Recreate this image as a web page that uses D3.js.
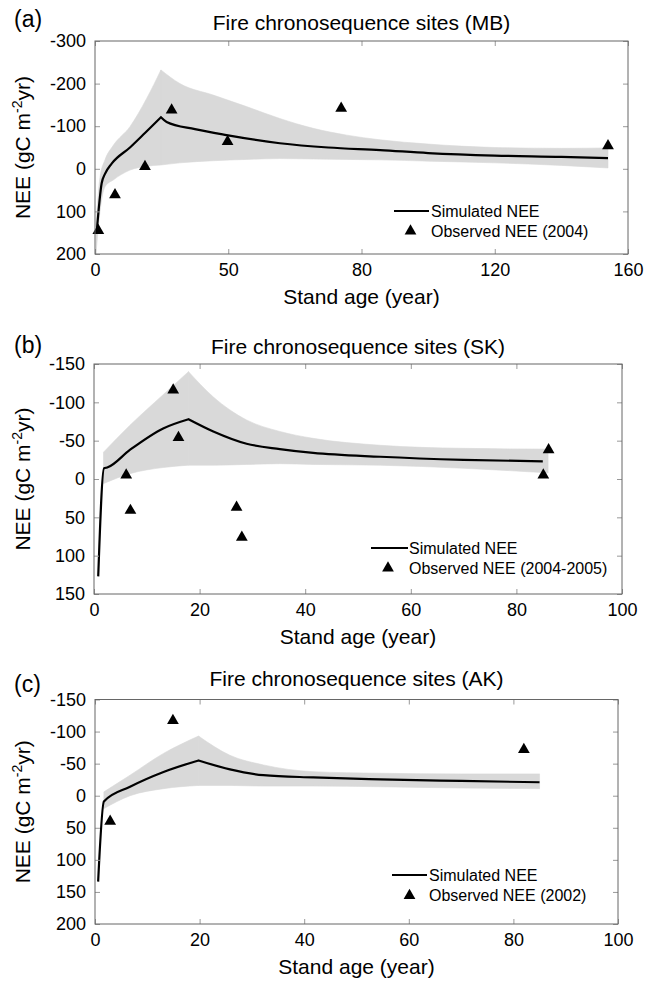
<!DOCTYPE html>
<html>
<head>
<meta charset="utf-8">
<script src="https://cdn.jsdelivr.net/npm/d3@7"></script>
<style>
  body { margin: 0; background: #fff; }
  svg text { font-family: "Liberation Sans", Arial, Helvetica, sans-serif; fill: #000; }
</style>
</head>
<body>
<svg id="chart" width="645" height="983"></svg>
<script>
// ---- data ----
// (a) MB
const mbObsAge = [1.0, 6.0, 15.0, 23.0, 39.8, 73.9, 154];
const mbObsNEE = [145, 61, -5, -138, -64, -142, -54];
const mbSimAge = [0.5, 2.0, 3.0, 5.0, 10.5, 15, 19.8, 21.5, 30, 39.5, 55.5, 70, 85.6, 100, 120, 140, 154];
const mbSimNEE = [150, 34, 12, -12, -50, -84, -121, -110, -93, -79, -60, -50, -44, -37, -31, -28, -25];
const mbBandAge = [0.3, 1.5, 3, 5.5, 10.5, 15.5, 19.8, 25.5, 35.5, 45.5, 55.5, 65.5, 75.6, 85.6, 100, 120, 140, 154];
const mbBandUp = [130, 20, -21, -55, -99, -165, -232, -200, -173, -146, -118, -95, -79, -68, -58, -50, -48, -49];
const mbBandLo = [200, 100, 42, 26, 3, -6, -9, -14, -19, -22, -24, -23, -22, -21, -18, -14, -8, -2];
const mbXTicks = [0, 40, 80, 120, 160];
const mbXTickLabels = ["0", "50", "80", "120", "160"];
const mbYTicks = [-300, -200, -100, 0, 100, 200];

// (b) SK
const skObsAge = [6.1, 6.9, 15.0, 16.0, 27.0, 28.0, 85.1, 86.1];
const skObsNEE = [-5, 41, -116, -54, 37, 76, -5, -38];
const skSimAge = [0.8, 1.9, 2.5, 6.8, 13.1, 17.9, 22.6, 28.9, 35.2, 41.5, 54.2, 70, 85];
const skSimNEE = [127, -14, -15, -38, -66, -78, -62, -46, -39, -34, -29, -25, -23];
const skBandAge = [1.8, 6.8, 13.1, 17.9, 22.6, 28.9, 35.2, 41.5, 54.2, 70, 86];
const skBandUp = [-35, -70, -110, -140, -107, -77, -62, -53, -44, -40, -39];
const skBandLo = [6, -7, -15, -18, -18, -19, -20, -19, -18, -14, -8];
const skXTicks = [0, 20, 40, 60, 80, 100];
const skYTicks = [-150, -100, -50, 0, 50, 100, 150];

// (c) AK
const akObsAge = [2.9, 14.9, 82];
const akObsNEE = [40, -117, -72];
const akSimAge = [0.6, 1.7, 6.7, 13.1, 19.8, 25.8, 32.2, 41.7, 54.5, 70, 85];
const akSimNEE = [134, 9, -14, -37, -55, -41, -32, -28.5, -25.5, -23, -21];
const akBandAge = [1.7, 6.7, 13.1, 19.8, 25.8, 32.2, 41.7, 54.5, 70, 85];
const akBandUp = [-6, -32, -66, -93, -63, -48, -37.5, -35, -34, -34];
const akBandLo = [20, 0, -11, -16, -16, -15, -15, -14, -12, -11];
const akXTicks = [0, 20, 40, 60, 80, 100];
const akYTicks = [-150, -100, -50, 0, 50, 100, 150, 200];

const panels = [
  { tag: "(a)", title: "Fire chronosequence sites (MB)", legendObs: "Observed NEE (2004)",
    left: 95, right: 628, top: 41, bottom: 254, tagY: 27, titleY: 30,
    xDom: [0, 160], yDom: [-300, 200], xTicks: mbXTicks, xLabels: mbXTickLabels, yTicks: mbYTicks,
    obsAge: mbObsAge, obsNEE: mbObsNEE, simAge: mbSimAge, simNEE: mbSimNEE,
    bandAge: mbBandAge, bandUp: mbBandUp, bandLo: mbBandLo,
    leg: { x0: 394, x1: 429, tx: 431, y1: 211, y2: 231, mx: 410.5 } },
  { tag: "(b)", title: "Fire chronosequence sites (SK)", legendObs: "Observed NEE (2004-2005)",
    left: 94, right: 622, top: 364, bottom: 594, tagY: 353, titleY: 354,
    xDom: [0, 100], yDom: [-150, 150], xTicks: skXTicks, xLabels: null, yTicks: skYTicks,
    obsAge: skObsAge, obsNEE: skObsNEE, simAge: skSimAge, simNEE: skSimNEE,
    bandAge: skBandAge, bandUp: skBandUp, bandLo: skBandLo,
    leg: { x0: 371, x1: 408, tx: 409, y1: 548, y2: 568, mx: 388 } },
  { tag: "(c)", title: "Fire chronosequence sites (AK)", legendObs: "Observed NEE (2002)",
    left: 95, right: 618, top: 699.5, bottom: 924, tagY: 692, titleY: 686,
    xDom: [0, 100], yDom: [-150, 200], xTicks: akXTicks, xLabels: null, yTicks: akYTicks,
    obsAge: akObsAge, obsNEE: akObsNEE, simAge: akSimAge, simNEE: akSimNEE,
    bandAge: akBandAge, bandUp: akBandUp, bandLo: akBandLo,
    leg: { x0: 392, x1: 427, tx: 429, y1: 875, y2: 895.5, mx: 409.5 } }
];

const svg = d3.select("#chart");
const tri = d3.symbol().type(d3.symbolTriangle).size(60);

// split a series at its peak so the smooth curve keeps a sharp corner there
function splitAtPeak(rows, key) {
  let k = d3.minIndex(rows, d => d[key]);
  return [rows.slice(0, k + 1), rows.slice(k)];
}

panels.forEach(p => {
  let x = d3.scaleLinear().domain(p.xDom).range([p.left, p.right]);
  let y = d3.scaleLinear().domain(p.yDom).range([p.top, p.bottom]);
  let g = svg.append("g");

  // uncertainty band
  let band = p.bandAge.map((a, i) => ({ a: a, up: p.bandUp[i], lo: p.bandLo[i] }));
  let area = d3.area().curve(d3.curveMonotoneX)
    .x(d => x(d.a)).y0(d => y(d.lo)).y1(d => y(d.up));
  g.selectAll(".band")
    .data(splitAtPeak(band, "up"))
    .enter()
      .append("path")
      .attr("fill", "#d9d9d9")
      .attr("stroke", "#d9d9d9")
      .attr("stroke-width", 0.6)
      .attr("d", d => area(d));

  // simulated NEE
  let sim = p.simAge.map((a, i) => ({ a: a, v: p.simNEE[i] }));
  let line = d3.line().curve(d3.curveMonotoneX).x(d => x(d.a)).y(d => y(d.v));
  let parts = splitAtPeak(sim, "v");
  g.append("path")
    .attr("fill", "none")
    .attr("stroke", "#000")
    .attr("stroke-width", 2.2)
    .attr("stroke-linejoin", "miter")
    .attr("d", line(parts[0]) + line(parts[1]).replace(/^M[^A-Za-z]*/, m => "L" + m.slice(1)));

  // observed NEE
  g.selectAll(".obs")
    .data(p.obsAge.map((a, i) => ({ a: a, v: p.obsNEE[i] })))
    .enter()
      .append("path")
      .attr("d", tri)
      .attr("transform", d => "translate(" + x(d.a) + "," + y(d.v) + ")")
      .attr("fill", "#000");

  // axes, MATLAB style ticks pointing inward
  let fmt = p.xLabels ? ((d, i) => p.xLabels[i]) : (d => String(d));
  let ax = g.append("g").attr("transform", "translate(0," + p.bottom + ")")
    .call(d3.axisBottom(x).tickValues(p.xTicks).tickSize(-5).tickPadding(9).tickFormat(fmt));
  let ay = g.append("g").attr("transform", "translate(" + p.left + ",0)")
    .call(d3.axisLeft(y).tickValues(p.yTicks).tickSize(-5).tickPadding(9).tickFormat(d => String(d)));
  let at = g.append("g").attr("transform", "translate(0," + p.top + ")")
    .call(d3.axisTop(x).tickValues(p.xTicks).tickSize(-5).tickFormat(""));
  let ar = g.append("g").attr("transform", "translate(" + p.right + ",0)")
    .call(d3.axisRight(y).tickValues(p.yTicks).tickSize(-5).tickFormat(""));
  [ax, ay, at, ar].forEach(a => {
    a.select(".domain").remove();
    a.selectAll("line").attr("stroke", "#999");
    a.selectAll("text").attr("font-size", 18).attr("fill", "#000")
      .attr("font-family", "Liberation Sans, Arial, sans-serif");
  });

  g.append("rect")
    .attr("x", p.left).attr("y", p.top)
    .attr("width", p.right - p.left).attr("height", p.bottom - p.top)
    .attr("fill", "none").attr("stroke", "#666").attr("stroke-width", 1);

  // texts
  let cx = (p.left + p.right) / 2;
  g.append("text").attr("x", 14).attr("y", p.tagY).attr("font-size", 23).text(p.tag);
  g.append("text").attr("x", cx).attr("y", p.titleY).attr("text-anchor", "middle")
    .attr("font-size", 21).text(p.title);
  g.append("text").attr("x", cx).attr("y", p.bottom + 50).attr("text-anchor", "middle")
    .attr("font-size", 21).text("Stand age (year)");

  let yl = g.append("text")
    .attr("transform", "translate(30," + ((p.top + p.bottom) / 2) + ") rotate(-90)")
    .attr("text-anchor", "middle").attr("font-size", 21);
  yl.append("tspan").text("NEE (gC m");
  yl.append("tspan").attr("dy", -8).attr("font-size", 14).text("-2");
  yl.append("tspan").attr("dy", 8).text("yr)");

  // legend
  let L = p.leg;
  g.append("line").attr("x1", L.x0).attr("x2", L.x1).attr("y1", L.y1).attr("y2", L.y1)
    .attr("stroke", "#000").attr("stroke-width", 2.2);
  g.append("text").attr("x", L.tx).attr("y", L.y1 + 5.6).attr("font-size", 16).text("Simulated NEE");
  g.append("path").attr("d", tri).attr("transform", "translate(" + L.mx + "," + L.y2 + ")").attr("fill", "#000");
  g.append("text").attr("x", L.tx).attr("y", L.y2 + 5.6).attr("font-size", 16).text(p.legendObs);
});
</script>
</body>
</html>
